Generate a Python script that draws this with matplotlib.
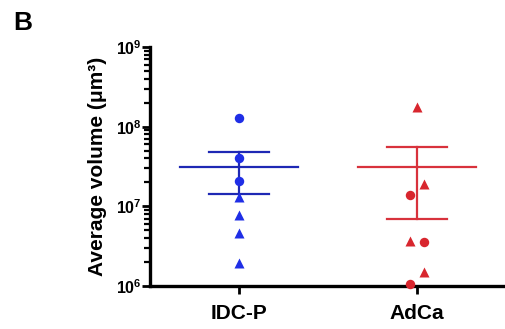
import numpy as np
import matplotlib
matplotlib.use("Agg")
import matplotlib.pyplot as plt
from matplotlib.ticker import LogLocator, NullFormatter

plt.rcParams['font.family'] = ['Liberation Sans', 'DejaVu Sans']
plt.rcParams['mathtext.fontset'] = 'custom'
plt.rcParams['mathtext.rm'] = 'Liberation Sans:bold'
plt.rcParams['mathtext.bf'] = 'Liberation Sans:bold'

categories = ["IDC-P", "AdCa"]

idcp_circle = [1.3e8, 4.1e7, 2.1e7]
idcp_triangle = [1.3e7, 7.8e6, 4.6e6, 1.93e6]
adca_circle = [1.39e7, 3.54e6, 1.05e6]
adca_triangle = [1.78e8, 1.91e7, 3.7e6, 1.52e6]

# horizontal jitter (in category units) for each point
idcp_circle_jit = [0.0, 0.0, 0.0]
idcp_triangle_jit = [0.0, 0.0, 0.0, 0.0]
adca_circle_jit = [-0.04, 0.04, -0.04]
adca_triangle_jit = [0.0, 0.04, -0.04, 0.04]

ytick_values = [1e6, 1e7, 1e8, 1e9]
ytick_labels = [r'$\mathbf{10^{6}}$', r'$\mathbf{10^{7}}$', r'$\mathbf{10^{8}}$', r'$\mathbf{10^{9}}$']

blue_pt = '#1f2ee6'
blue_ln = '#1e28b4'
red_pt = '#d8262e'
red_ln = '#d8323c'

fig = plt.figure(figsize=(5.06, 3.29), dpi=100)
ax = fig.add_axes([0.2964, 0.1307, 0.7036, 0.7264])
ax.set_yscale('log')

groups = [
    (0, idcp_circle, idcp_triangle, idcp_circle_jit, idcp_triangle_jit, blue_pt, blue_ln),
    (1, adca_circle, adca_triangle, adca_circle_jit, adca_triangle_jit, red_pt, red_ln),
]
for xc, circ, tri, cj, tj, cp, cl in groups:
    allv = np.array(circ + tri)
    m = allv.mean()
    sem = allv.std(ddof=1) / np.sqrt(len(allv))
    ax.plot([xc - 0.33, xc + 0.33], [m, m], color=cl, lw=1.6, zorder=3)
    ax.plot([xc - 0.17, xc + 0.17], [m + sem, m + sem], color=cl, lw=1.6, zorder=3)
    ax.plot([xc - 0.17, xc + 0.17], [m - sem, m - sem], color=cl, lw=1.6, zorder=3)
    ax.plot([xc, xc], [m - sem, m + sem], color=cl, lw=1.6, zorder=3)
    ax.plot(np.array(cj) + xc, circ, 'o', color=cp, ms=6.8, mec='none', zorder=4, clip_on=False)
    ax.plot(np.array(tj) + xc, tri, '^', color=cp, ms=6.5, mec='none', zorder=4, clip_on=False)

ax.set_xlim(-0.5, 1.5)
ax.set_ylim(1e6, 1e9)
ax.set_xticks([0, 1])
ax.set_xticklabels(categories, fontsize=15, fontweight='bold')
ax.set_yticks(ytick_values)
ax.set_yticklabels(ytick_labels, fontsize=11.5)
ax.yaxis.set_minor_locator(LogLocator(base=10, subs=np.arange(2, 10)))
ax.yaxis.set_minor_formatter(NullFormatter())

for s in ['top', 'right']:
    ax.spines[s].set_visible(False)
for s in ['left', 'bottom']:
    ax.spines[s].set_linewidth(2.4)
    ax.spines[s].set_color('black')

ax.tick_params(axis='y', which='major', length=6, width=2, pad=0)
ax.tick_params(axis='y', which='minor', length=4, width=1.6)
ax.tick_params(axis='x', which='major', length=6, width=2, pad=7)

ax.set_ylabel('Average volume (μm³)', fontsize=15, fontweight='bold', labelpad=6)

fig.text(0.026, 0.93, 'B', fontsize=19, fontweight='bold', ha='left', va='center')

fig.savefig('out.png', dpi=100)
